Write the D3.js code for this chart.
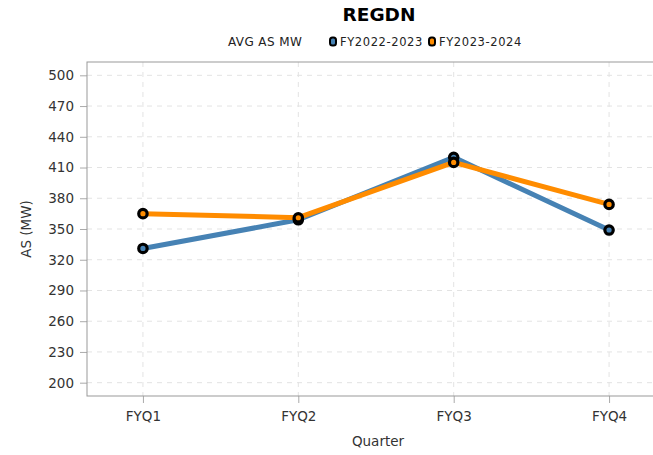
<!DOCTYPE html>
<html>
<head>
<meta charset="utf-8">
<script src="https://cdn.jsdelivr.net/npm/d3@7"></script>
<style>
  body { margin: 0; background: #fff; }
  text { font-family: "DejaVu Sans", sans-serif; }
</style>
</head>
<body>
<div id="chart"></div>
<script>
// chart size
const width = 653;
const height = 455;
const margin = {left: 87, right: -12, top: 62, bottom: 59};

// data
const quarters = ["FYQ1", "FYQ2", "FYQ3", "FYQ4"];
const fy2223 = [331, 359, 420, 349];
const fy2324 = [365, 361, 415, 374];
const seriesNames = ["FY2022-2023", "FY2023-2024"];
const seriesColors = ["#4682b4", "#ff8c00"];
const yTicks = [200, 230, 260, 290, 320, 350, 380, 410, 440, 470, 500];

const series = [
  {name: seriesNames[0], color: seriesColors[0], values: fy2223},
  {name: seriesNames[1], color: seriesColors[1], values: fy2324}
];

const svg = d3.select("#chart")
  .append("svg")
  .attr("width", width)
  .attr("height", height);

// scales
const xScale = d3.scalePoint()
  .domain(quarters)
  .range([margin.left, width - margin.right])
  .padding(0.36);

const yScale = d3.scaleLinear()
  .domain([187, 513])
  .range([height - margin.bottom, margin.top]);

// grid lines
svg.append("g")
  .selectAll("line")
  .data(yTicks)
  .join("line")
  .attr("x1", margin.left)
  .attr("x2", width - margin.right)
  .attr("y1", d => yScale(d))
  .attr("y2", d => yScale(d))
  .attr("stroke", "#e3e3e3")
  .attr("stroke-dasharray", "5,5");

svg.append("g")
  .selectAll("line")
  .data(quarters)
  .join("line")
  .attr("x1", d => xScale(d))
  .attr("x2", d => xScale(d))
  .attr("y1", margin.top)
  .attr("y2", height - margin.bottom)
  .attr("stroke", "#e3e3e3")
  .attr("stroke-dasharray", "5,5");

// axes
const yAxis = svg.append("g")
  .attr("transform", `translate(${margin.left},0)`)
  .call(d3.axisLeft(yScale).tickValues(yTicks).tickSize(7).tickPadding(6));

const xAxis = svg.append("g")
  .attr("transform", `translate(0,${height - margin.bottom})`)
  .call(d3.axisBottom(xScale).tickSize(7).tickPadding(8));

[xAxis, yAxis].forEach(a => {
  a.select(".domain").remove();
  a.selectAll("line").attr("stroke", "#aaa");
  a.selectAll("text")
    .attr("font-size", "13.5px")
    .attr("fill", "#333")
    .style("font-family", "'DejaVu Sans', sans-serif");
});

// frame
svg.append("rect")
  .attr("x", margin.left)
  .attr("y", margin.top)
  .attr("width", width - margin.right - margin.left)
  .attr("height", height - margin.bottom - margin.top)
  .attr("fill", "none")
  .attr("stroke", "#999");

// lines
const line = d3.line()
  .x((d, i) => xScale(quarters[i]))
  .y(d => yScale(d));

svg.append("g")
  .selectAll("path")
  .data(series)
  .join("path")
  .attr("d", d => line(d.values))
  .attr("fill", "none")
  .attr("stroke", d => d.color)
  .attr("stroke-width", 5)
  .attr("stroke-linejoin", "round");

// markers
series.forEach(s => {
  svg.append("g")
    .selectAll("circle")
    .data(s.values)
    .join("circle")
    .attr("cx", (d, i) => xScale(quarters[i]))
    .attr("cy", d => yScale(d))
    .attr("r", 4.2)
    .attr("fill", s.color)
    .attr("stroke", "#000")
    .attr("stroke-width", 3.2);
});

// title
svg.append("text")
  .attr("x", 379)
  .attr("y", 21)
  .attr("text-anchor", "middle")
  .attr("font-size", "18.5px")
  .attr("font-weight", "bold")
  .attr("fill", "#000")
  .text("REGDN");

// legend
const legend = svg.append("g").attr("transform", "translate(0,42)");
legend.append("text")
  .attr("x", 228)
  .attr("y", 4)
  .attr("font-size", "12px")
  .attr("letter-spacing", "0.4px")
  .attr("fill", "#222")
  .text("AVG AS MW");

const legendX = [333, 432];
series.forEach((s, i) => {
  legend.append("rect")
    .attr("x", legendX[i] - 3)
    .attr("y", -4.5)
    .attr("width", 6)
    .attr("height", 8)
    .attr("rx", 2.5)
    .attr("fill", s.color)
    .attr("stroke", "#000")
    .attr("stroke-width", 2);
  legend.append("text")
    .attr("x", legendX[i] + 7)
    .attr("y", 4)
    .attr("font-size", "11.5px")
    .attr("letter-spacing", "0.6px")
    .attr("fill", "#222")
    .text(s.name);
});

// axis titles
svg.append("text")
  .attr("x", 378)
  .attr("y", 446)
  .attr("text-anchor", "middle")
  .attr("font-size", "13.5px")
  .attr("fill", "#333")
  .text("Quarter");

svg.append("text")
  .attr("transform", `translate(31,${(margin.top + height - margin.bottom) / 2}) rotate(-90)`)
  .attr("text-anchor", "middle")
  .attr("font-size", "13.5px")
  .attr("fill", "#333")
  .text("AS (MW)");
</script>
</body>
</html>
